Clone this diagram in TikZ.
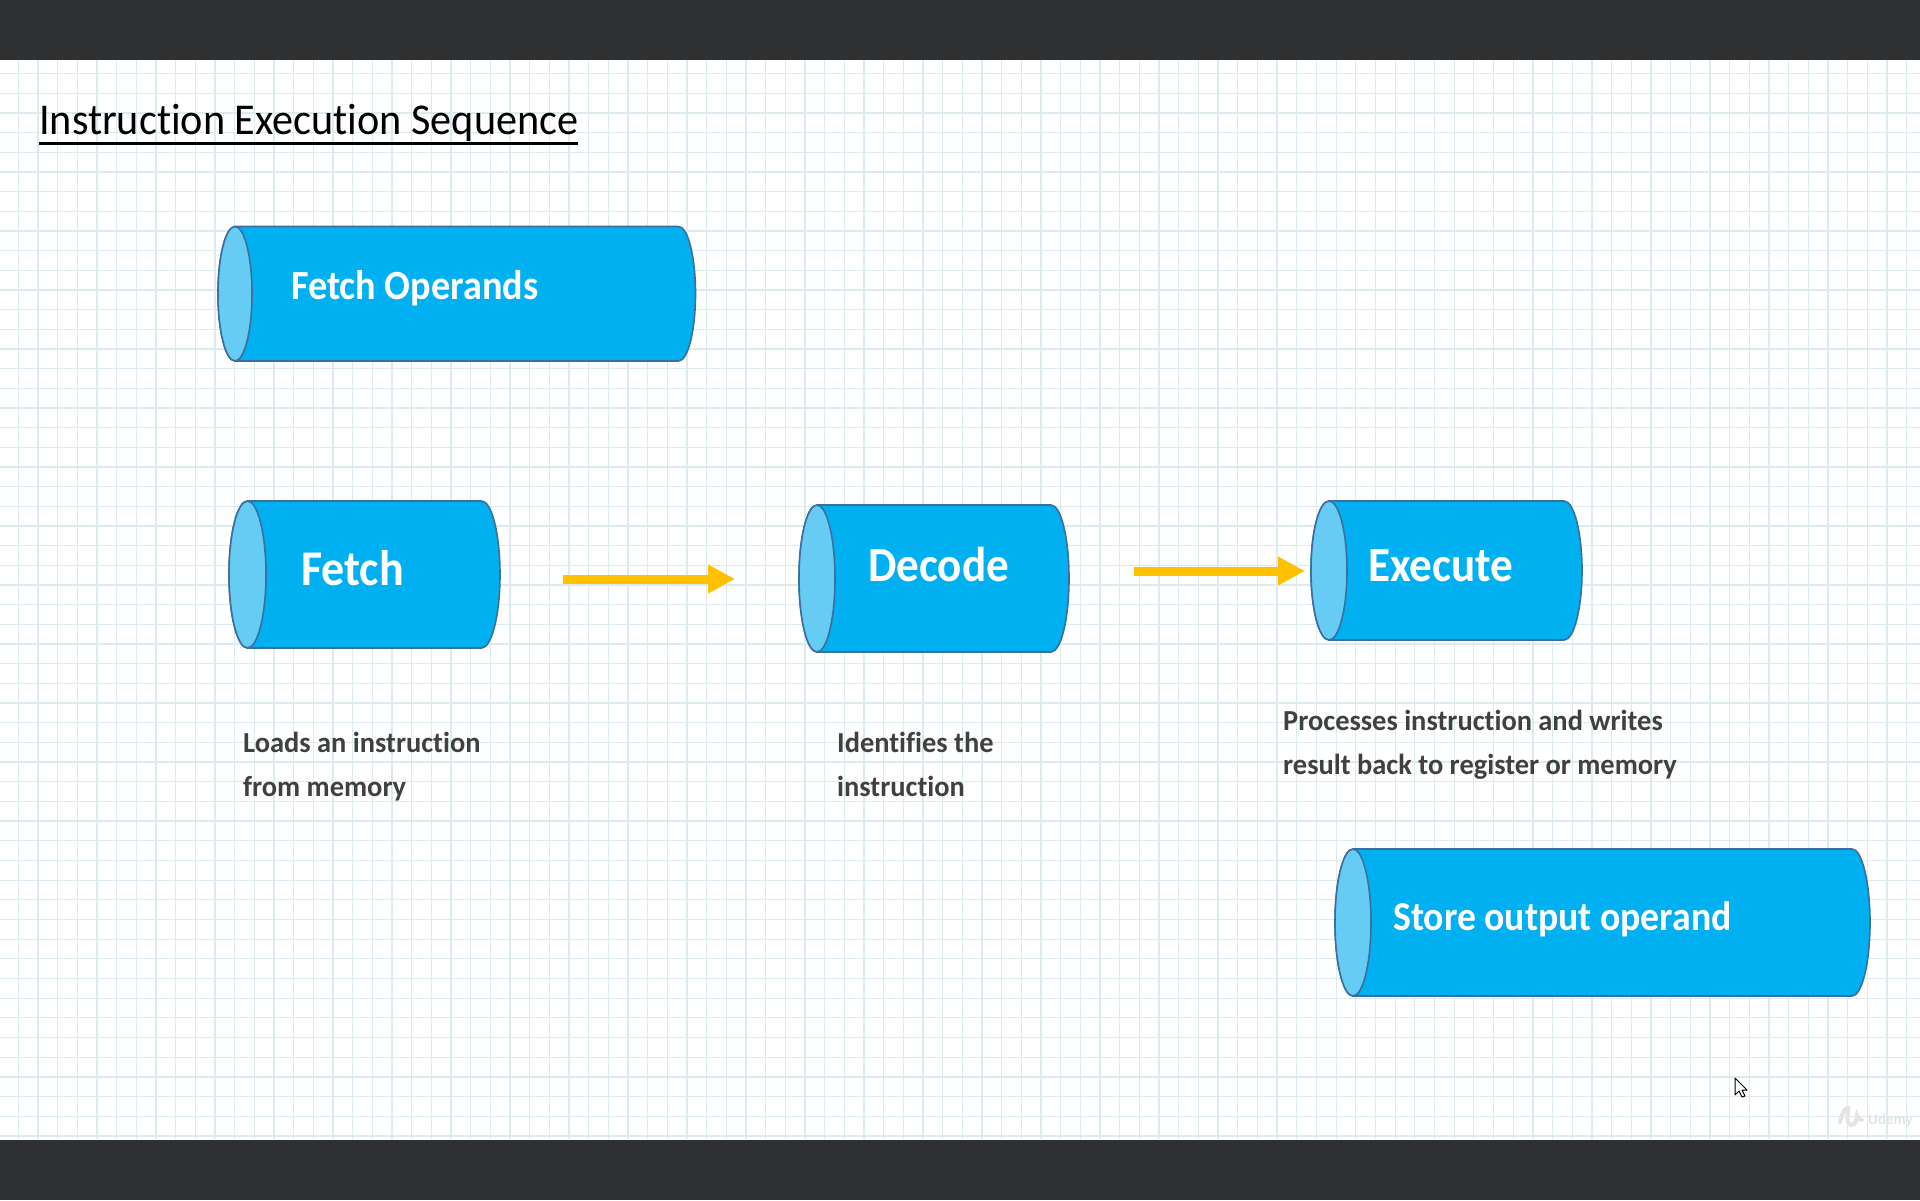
\documentclass[tikz,border=0pt]{standalone}
\usepackage{fontspec}
\setmainfont{Carlito}
\newfontfamily\titlefont[FakeStretch=0.96,Ligatures=NoCommon]{Carlito}
\newfontfamily\labelfont[FakeStretch=0.92,Ligatures=NoCommon,BoldFont=Carlito Bold]{Carlito}
\newfontfamily\bodyfont[FakeStretch=0.98,Ligatures=NoCommon,BoldFont=Carlito Bold]{Carlito}
\usetikzlibrary{arrows.meta}
\definecolor{bandc}{HTML}{2F3032}
\definecolor{gridc}{HTML}{DDEBEF}
\definecolor{cylfill}{HTML}{00B0F0}
\definecolor{capfill}{HTML}{66CCF4}
\definecolor{cylline}{HTML}{3A6F9F}
\definecolor{flowc}{HTML}{FFC000}
\definecolor{bodyc}{HTML}{404040}
\definecolor{wmc}{HTML}{E2E4E6}
\tikzset{
  cylbody/.style={draw=cylline,line width=1.6pt,fill=cylfill},
  cylcap/.style={draw=cylline,line width=1.6pt,fill=capfill},
  cylanchor/.style={inner sep=0pt,outer sep=0pt,anchor=north west},
  flow/.style={draw=flowc,line width=9pt,-{Triangle[length=27pt,width=27pt,fill=flowc]}},
  cyltext/.style={anchor=base west,inner sep=0pt,text=white,font=\labelfont\bfseries},
  bodytext/.style={anchor=base west,inner sep=0pt,text=bodyc,font=\bodyfont\bfseries\fontsize{29}{34}\selectfont},
}
% name, x0, y0, x1, y1, cap half width
\newcommand{\cylshape}[6]{%
  \pgfmathsetmacro{\cw}{#4-#2}\pgfmathsetmacro{\ch}{#5-#3}%
  \pgfmathsetmacro{\hh}{(#5-#3)/2}\pgfmathsetmacro{\cy}{(#3+#5)/2}%
  \pgfmathsetmacro{\xa}{#2+#6}\pgfmathsetmacro{\xb}{#4-#6}%
  \draw[cylbody] (\xa,#3) -- (\xb,#3) arc[start angle=-90,end angle=90,x radius=#6,y radius=\hh]
     -- (\xa,#5) arc[start angle=90,end angle=270,x radius=#6,y radius=\hh] -- cycle;
  \draw[cylcap] (\xa,\cy) ellipse[x radius=#6,y radius=\hh];
  \node[cylanchor,minimum width=\cw pt,minimum height=\ch pt] (#1) at (#2,#3) {};
}
\begin{document}
\begin{tikzpicture}[x=1pt,y=-1pt]
\useasboundingbox (0,0) rectangle (1920,1200);
\fill[white] (0,60) rectangle (1920,1140);
\begin{scope}
  \clip (0,60) rectangle (1920,1139);
  \foreach \i in {0,...,97} {\draw[gridc,line width=1.3pt] ({18.25+19.67*\i},60) -- ({18.25+19.67*\i},1139);}
  \foreach \i in {0,...,55} {\draw[gridc,line width=1.3pt] (0,{54+19.67*\i}) -- (1920,{54+19.67*\i});}
\end{scope}
\fill[bandc] (0,0) rectangle (1920,60);
\fill[bandc] (0,1140) rectangle (1920,1200);

\node[anchor=base west,inner sep=0pt,font=\titlefont\fontsize{44}{52}\selectfont] (title) at (39,134) {Instruction Execution Sequence};
\draw[black,line width=3pt] (39,143.5) -- (578,143.5);

\cylshape{operands}{218}{226.5}{695.5}{361}{17}
\cylshape{fetch}{229}{501}{500}{648}{18.5}
\cylshape{decode}{799}{505}{1069}{652}{18}
\cylshape{execute}{1311}{501}{1582}{640}{18}
\cylshape{store}{1335}{849}{1870}{996}{18}

\node[cyltext,font=\labelfont\bfseries\fontsize{41.5}{48}\selectfont] (toperands) at (291,299) {Fetch Operands};
\node[cyltext,font=\labelfont\bfseries\fontsize{50}{56}\selectfont] (tfetch) at (301,585) {Fetch};
\node[cyltext,font=\labelfont\bfseries\fontsize{49}{56}\selectfont] (tdecode) at (868,581) {Decode};
\node[cyltext,font=\labelfont\bfseries\fontsize{49}{56}\selectfont] (texecute) at (1368,581) {Execute};
\node[cyltext,font=\labelfont\bfseries\fontsize{41}{46}\selectfont] (tstore) at (1393,930) {Store output operand};

\draw[flow,shorten <=63pt,shorten >=64pt] (fetch.east |- 0,579) -- (decode.west |- 0,579);
\draw[flow,shorten <=65pt,shorten >=6pt] (decode.east |- 0,571) -- (execute.west |- 0,571);

\node[bodytext] (b1a) at (243,752) {Loads an instruction};
\node[bodytext] (b1b) at (243,796) {from memory};
\node[bodytext] (b2a) at (837,752) {Identifies the};
\node[bodytext] (b2b) at (837,796) {instruction};
\node[bodytext] (b3a) at (1283,730) {Processes instruction and writes};
\node[bodytext] (b3b) at (1283,774) {result back to register or memory};

% mouse pointer
\draw[black,fill=white,line width=1pt,line join=round] (1735,1078) -- (1735,1095) -- (1739,1091) -- (1742,1097) -- (1745,1096) -- (1742,1090) -- (1747,1090) -- cycle;
% watermark
\draw[wmc,line width=4pt,line cap=round] (1840,1122) .. controls (1842,1112) and (1846,1107) .. (1848,1108) .. controls (1848,1116) and (1846,1124) .. (1851,1125) .. controls (1857,1125) and (1856,1118) .. (1857,1115) .. controls (1858,1118) and (1859,1120) .. (1862,1120);
\node[anchor=base west,inner sep=0pt,text=wmc,font=\bfseries\fontsize{15}{18}\selectfont] (wm) at (1868,1124) {Udemy};
\end{tikzpicture}
\end{document}
